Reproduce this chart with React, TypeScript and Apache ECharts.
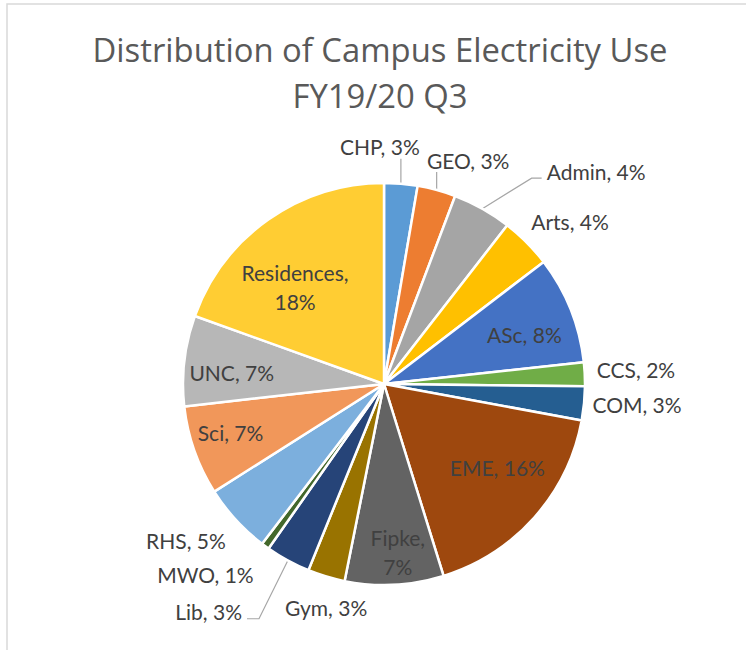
import React, { useEffect, useRef } from "react";
import * as echarts from "echarts";

const TITLE_LINES = ["Distribution of Campus Electricity Use", "FY19/20 Q3"];
const CATEGORIES = ["CHP", "GEO", "Admin", "Arts", "ASc", "CCS", "COM", "EME", "Fipke", "Gym", "Lib", "MWO", "RHS", "Sci", "UNC", "Residences"];
const SHARES = [2.52, 2.9, 4.47, 3.86, 8.15, 1.8, 2.56, 16.29, 7.46, 2.82, 3.39, 0.6, 5.3, 6.79, 6.84, 18.36];
const COLORS = ["#5B9BD5", "#ED7D31", "#A5A5A5", "#FFC000", "#4472C4", "#70AD47", "#255E91", "#9E480E", "#636363", "#997300", "#264478", "#43682B", "#7CAFDD", "#F1975A", "#B7B7B7", "#FFCD33"];
const INSIDE = ["ASc", "EME", "Fipke", "Sci", "UNC", "Residences"];
const TWO_LINE = ["Residences", "Fipke"];
const LEADER = ["CHP", "GEO", "Admin", "Lib"];
// label anchor: [angle in degrees clockwise from 12 o'clock, distance in pie radii]
const LABEL_POLAR: number[][] = [
  [-1, 1.18], [20.6, 1.19], [44.9, 1.495], [48.8, 1.23], [70.7, 0.74], [86.6, 1.256],
  [94.7, 1.263], [126.3, 0.7], [175.3, 0.84], [194.5, 1.15], [217.6, 1.43], [223.1, 1.3],
  [231.6, 1.257], [252.6, 0.8], [274.5, 0.76], [317.5, 0.655],
];

const CX = 384;
const CY = 384;
const R = 201;

export default function App() {
  const ref = useRef<HTMLDivElement>(null);
  useEffect(() => {
    if (!ref.current) return;
    const chart = echarts.init(ref.current, null, { renderer: "svg" });
    const total = SHARES.reduce((a, b) => a + b, 0);
    const midAngles: number[] = [];
    let cum = 0;
    SHARES.forEach((v) => {
      midAngles.push(((cum + v / 2) / total) * 360);
      cum += v;
    });
    const polar = (deg: number, dist: number) => {
      const rad = (deg * Math.PI) / 180;
      return [CX + dist * Math.sin(rad), CY - dist * Math.cos(rad)];
    };

    const data = CATEGORIES.map((name, i) => ({
      name,
      value: SHARES[i],
      itemStyle: { color: COLORS[i] },
      label: {
        position: INSIDE.includes(name) ? "inside" : "outside",
        lineHeight: TWO_LINE.includes(name) ? 29 : 24,
      },
      labelLine: { show: LEADER.includes(name) },
    }));

    chart.setOption({
      animation: false,
      backgroundColor: "#ffffff",
      title: {
        text: TITLE_LINES.join("\n"),
        left: 375,
        top: 21,
        textAlign: "center",
        textStyle: {
          fontFamily: "Open Sans",
          fontSize: 32.8,
          fontWeight: "normal",
          color: "#595959",
          lineHeight: 46,
        },
      },
      graphic: [
        {
          type: "rect",
          shape: { x: 7, y: 4, width: 800, height: 700 },
          style: { fill: "none", stroke: "#D9D9D9", lineWidth: 1.5 },
          silent: true,
        },
      ],
      series: [
        {
          type: "pie",
          center: [CX, CY],
          radius: R,
          startAngle: 90,
          clockwise: true,
          avoidLabelOverlap: false,
          itemStyle: { borderColor: "#ffffff", borderWidth: 2.5 },
          label: {
            show: true,
            fontFamily: "Lato",
            fontSize: 21,
            color: "#404040",
            formatter: (p: any) =>
              TWO_LINE.includes(p.name)
                ? `${p.name},\n${Math.round(p.value)}%`
                : `${p.name}, ${Math.round(p.value)}%`,
          },
          labelLine: {
            lineStyle: { color: "#A6A6A6", width: 1.2 },
          },
          labelLayout: (params: any) => {
            const i = params.dataIndex;
            const [a, d] = LABEL_POLAR[i];
            const [x, y] = polar(a, d * R);
            const w = params.labelRect.width;
            const h = params.labelRect.height;
            const out: any = { x, y, align: "center", verticalAlign: "middle" };
            if (LEADER.includes(CATEGORIES[i])) {
              const [sx, sy] = polar(midAngles[i], R);
              const left = x - w / 2;
              const right = x + w / 2;
              const top = y - h / 2;
              const bottom = y + h / 2;
              const ly = y + 7;
              if (sx >= left && sx <= right) {
                const ey = sy > y ? bottom : top;
                out.labelLinePoints = [[sx, sy], [sx, ey], [sx, ey]];
              } else if (sx < left) {
                out.labelLinePoints = [[sx, sy], [left - 15, ly], [left - 5, ly]];
              } else {
                out.labelLinePoints = [[sx, sy], [right + 17, ly], [right + 5, ly]];
              }
            }
            return out;
          },
          data,
        },
      ],
    });
    return () => chart.dispose();
  }, []);
  return (
    <div
      ref={ref}
      style={{ position: "fixed", left: 0, top: 0, width: 746, height: 650 }}
    />
  );
}
